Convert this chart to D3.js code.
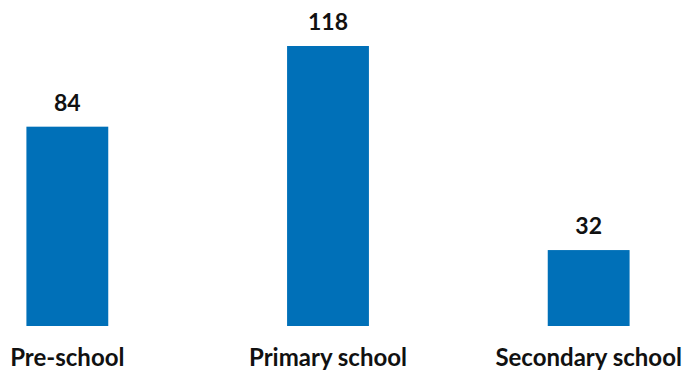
<!DOCTYPE html>
<html><head><meta charset="utf-8">
<script src="https://cdn.jsdelivr.net/npm/d3@7"></script>
<style>body{margin:0;background:#fff}svg{display:block}</style>
</head><body>
<script>
const categories = ["Pre-school", "Primary school", "Secondary school"];
const values = [84, 118, 32];

const W = 686, H = 370;
const svg = d3.select("body").append("svg").attr("width", W).attr("height", H);
const x = d3.scaleBand().domain(categories).range([-63, 719]).paddingInner(0.686).paddingOuter(0.343);
const y = d3.scaleLinear().domain([0, 118]).range([326, 46]);

svg.selectAll("rect.bar").data(values).enter().append("rect")
  .attr("class", "bar")
  .attr("x", (d, i) => x(categories[i]))
  .attr("width", x.bandwidth())
  .attr("y", d => y(d))
  .attr("height", d => y(0) - y(d))
  .attr("fill", "#0070b8");

svg.selectAll("text.val").data(values).enter().append("text")
  .attr("class", "val")
  .attr("x", (d, i) => x(categories[i]) + x.bandwidth() / 2)
  .attr("y", d => y(d) - 16)
  .attr("text-anchor", "middle")
  .attr("font-family", "Lato")
  .attr("font-weight", "bold")
  .attr("font-size", 23)
  .attr("fill", "#111")
  .text(d => d);

svg.selectAll("text.cat").data(categories).enter().append("text")
  .attr("class", "cat")
  .attr("x", d => x(d) + x.bandwidth() / 2)
  .attr("y", 366)
  .attr("text-anchor", "middle")
  .attr("font-family", "Lato")
  .attr("font-weight", "bold")
  .attr("font-size", 24)
  .attr("fill", "#111")
  .text(d => d);
</script>
</body></html>
